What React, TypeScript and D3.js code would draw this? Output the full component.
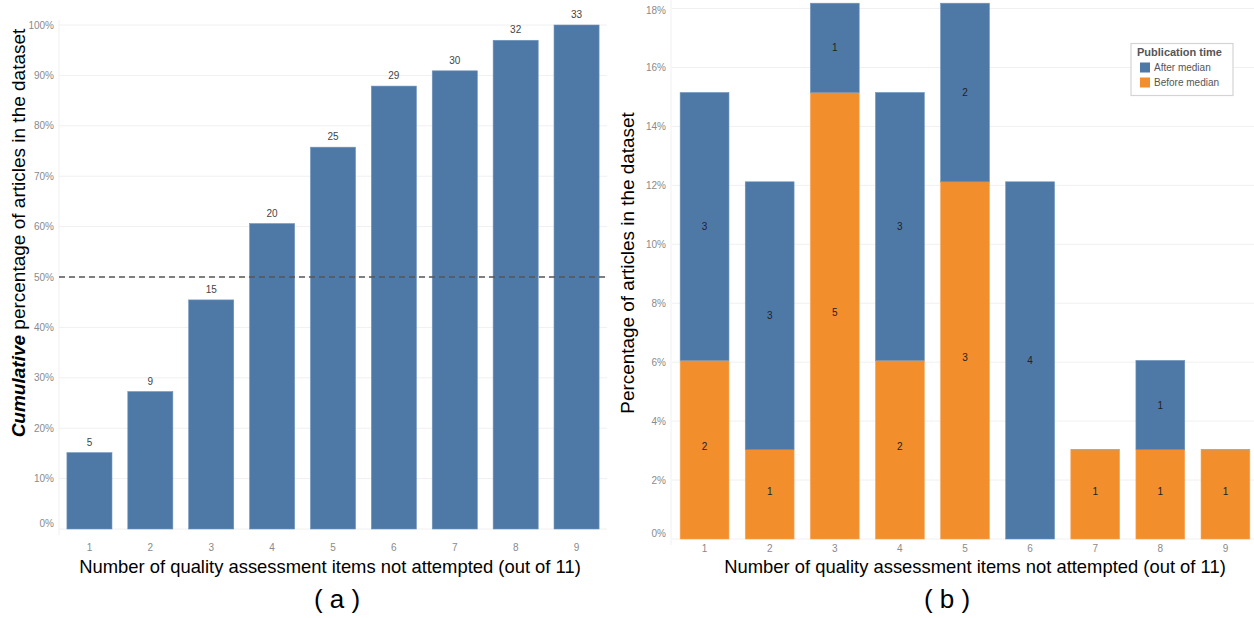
import React from "react";
import * as d3 from "d3";

const categories = ["1", "2", "3", "4", "5", "6", "7", "8", "9"];
const cumulativeCounts = [5, 9, 15, 20, 25, 29, 30, 32, 33];
const totalArticles = 33;
const leftTicks = [0, 10, 20, 30, 40, 50, 60, 70, 80, 90, 100];
const rightTicks = [0, 2, 4, 6, 8, 10, 12, 14, 16, 18];
// percentages
const beforePct = [6.06, 3.03, 15.15, 6.06, 12.12, 0, 3.03, 3.03, 3.03];
const afterPct = [9.09, 9.09, 3.03, 9.09, 6.06, 12.12, 0, 3.03, 0];
const beforeLabels = ["2", "1", "5", "2", "3", "", "1", "1", "1"];
const afterLabels = ["3", "3", "1", "3", "2", "4", "", "1", ""];
const seriesNames = ["After median", "Before median"];

const BLUE = "#4e79a7";
const ORANGE = "#f28e2b";
const GRID = "#f0f0f0";
const TICK = "#8a8a8a";
const FONT = "'Liberation Sans', Arial, sans-serif";

export default function App() {
  // Left panel
  const lx = d3.scaleBand().domain(categories).range([59, 607]).paddingInner(0.26).paddingOuter(0.13);
  const ly = d3.scaleLinear().domain([0, 100]).range([529, 25]);
  // Right panel
  const rx = d3.scaleBand().domain(categories).range([672, 1258]).paddingInner(0.25).paddingOuter(0.125);
  const ry = d3.scaleLinear().domain([0, 18]).range([539, 8.5]);

  return (
    <svg width={1254} height={618} style={{ position: "absolute", left: 0, top: 0, background: "#fff" }} fontFamily={FONT}>
      {/* ---------- Panel (a) ---------- */}
      <g>
        {leftTicks.map((t) => (
          <g key={"lg" + t}>
            <line x1={59} x2={607} y1={ly(t)} y2={ly(t)} stroke={GRID} strokeWidth={1} />
            <text x={54} y={ly(t) + (t === 0 ? -6 : 0)} dy="0.35em" textAnchor="end" fontSize={10} fill={TICK}>
              {t}%
            </text>
          </g>
        ))}
        <line x1={59} x2={59} y1={20} y2={535} stroke={GRID} strokeWidth={1} />
        {categories.map((c, i) => {
          const pct = (cumulativeCounts[i] / totalArticles) * 100;
          return (
            <g key={"lb" + c}>
              <rect x={lx(c)!} y={ly(pct)} width={lx.bandwidth()} height={ly(0) - ly(pct)} fill={BLUE} stroke="#6f93bb" strokeWidth={0.6} />
              <text x={lx(c)! + lx.bandwidth() / 2} y={ly(pct) - 7} textAnchor="middle" fontSize={10} fill="#444">
                {cumulativeCounts[i]}
              </text>
              <text x={lx(c)! + lx.bandwidth() / 2} y={547} dy="0.35em" textAnchor="middle" fontSize={10} fill={TICK}>
                {c}
              </text>
            </g>
          );
        })}
        <line x1={59} x2={607} y1={ly(50)} y2={ly(50)} stroke="#555" strokeWidth={1.4} strokeDasharray="6,4" />
        <text transform={`translate(25,${233}) rotate(-90)`} textAnchor="middle" fontSize={19} fill="#000">
          <tspan fontWeight="bold" fontStyle="italic">Cumulative</tspan>
          <tspan> percentage of articles in the dataset</tspan>
        </text>
        <text x={330} y={573} textAnchor="middle" fontSize={18.4} fill="#000">
          Number of quality assessment items not attempted (out of 11)
        </text>
        <text x={337} y={608} textAnchor="middle" fontSize={26} fill="#000">( a )</text>
      </g>

      {/* ---------- Panel (b) ---------- */}
      <g>
        {rightTicks.map((t) => (
          <g key={"rg" + t}>
            <line x1={672} x2={1254} y1={ry(t)} y2={ry(t)} stroke={GRID} strokeWidth={1} />
            <text x={666} y={ry(t) + (t === 0 ? -6 : t === 18 ? 1.5 : 0)} dy="0.35em" textAnchor="end" fontSize={10} fill={TICK}>
              {t}%
            </text>
          </g>
        ))}
        <line x1={671} x2={671} y1={0} y2={545} stroke={GRID} strokeWidth={1} />
        {categories.map((c, i) => {
          const x0 = rx(c)!;
          const w = rx.bandwidth();
          const b = beforePct[i];
          const a = afterPct[i];
          return (
            <g key={"rb" + c}>
              {b > 0 && <rect x={x0} y={ry(b)} width={w} height={ry(0) - ry(b)} fill={ORANGE} stroke="#f5a65c" strokeWidth={0.6} />}
              {a > 0 && <rect x={x0} y={ry(a + b)} width={w} height={ry(b) - ry(a + b)} fill={BLUE} stroke="#6f93bb" strokeWidth={0.6} />}
              {a === 0 && <line x1={x0} x2={x0 + w} y1={ry(b)} y2={ry(b)} stroke="#8fa9c9" strokeWidth={1} />}
              {beforeLabels[i] && (
                <text x={x0 + w / 2} y={(ry(0) + ry(b)) / 2 - 3} dy="0.35em" textAnchor="middle" fontSize={10} fill="#222">
                  {beforeLabels[i]}
                </text>
              )}
              {afterLabels[i] && (
                <text x={x0 + w / 2} y={(ry(b) + ry(a + b)) / 2} dy="0.35em" textAnchor="middle" fontSize={10} fill="#222">
                  {afterLabels[i]}
                </text>
              )}
              <text x={x0 + w / 2} y={548} dy="0.35em" textAnchor="middle" fontSize={10} fill={TICK}>
                {c}
              </text>
            </g>
          );
        })}
        <text transform={`translate(634,${263}) rotate(-90)`} textAnchor="middle" fontSize={18.9} fill="#000">
          Percentage of articles in the dataset
        </text>
        <text x={975} y={573} textAnchor="middle" fontSize={18.4} fill="#000">
          Number of quality assessment items not attempted (out of 11)
        </text>
        <text x={947} y={608} textAnchor="middle" fontSize={26} fill="#000">( b )</text>

        {/* Legend */}
        <g>
          <rect x={1131} y={43.5} width={102} height={52} fill="#fff" stroke="#d4d4d4" strokeWidth={1.2} />
          <text x={1137} y={56} fontSize={11} fontWeight="bold" fill="#555">Publication time</text>
          {seriesNames.map((s, i) => (
            <g key={s}>
              <rect x={1140} y={62.5 + i * 15} width={10} height={10} fill={i === 0 ? BLUE : ORANGE} />
              <text x={1154} y={67.5 + i * 15} dy="0.35em" fontSize={10} fill="#555">{s}</text>
            </g>
          ))}
        </g>
      </g>
    </svg>
  );
}
